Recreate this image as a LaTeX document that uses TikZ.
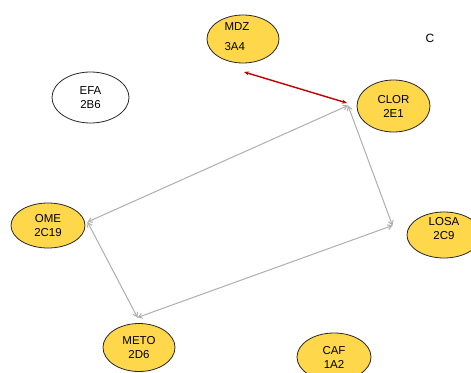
\documentclass[tikz,border=0pt]{standalone}
\usepackage{fontspec}
\setmainfont{Liberation Sans}
\usetikzlibrary{shapes.geometric,arrows.meta}
\definecolor{blobfill}{RGB}{255,215,75}
\definecolor{blobline}{RGB}{40,40,40}
\definecolor{linkgray}{RGB}{175,175,175}
\definecolor{linkred}{RGB}{192,0,0}
\tikzset{
  blob/.style={ellipse, draw=blobline, line width=0.8pt, fill=blobfill,
    inner sep=0pt, align=center, font=\fontsize{11.5}{14}\selectfont},
  plainblob/.style={blob, fill=white},
  graylink/.style={draw=linkgray, line width=1pt,
    {Straight Barb[length=4pt,width=5pt]}-{Straight Barb[length=4pt,width=5pt]}},
  redlink/.style={draw=linkred, line width=1.4pt,
    {Stealth[length=5pt,width=4pt]}-{Stealth[length=5pt,width=4pt]}},
  tag/.style={font=\fontsize{11.5}{14}\selectfont, align=center}
}
\begin{document}
\begin{tikzpicture}[x=1pt,y=-1pt]
\useasboundingbox (0,0) rectangle (471,372);
\clip (0,0) rectangle (471,372);
\fill[white] (0,0) rectangle (471,372);

% molecules
\node[blob, minimum width=72pt, minimum height=48pt,
  label={[tag, align=left, xshift=-6pt, yshift=2pt]center:{MDZ\\[6pt]3A4}}] (MDZ) at (243,39) {};
\node[plainblob, minimum width=77pt, minimum height=51pt] (EFA) at (90.5,97.5) {EFA\\2B6};
\node[blob, minimum width=73pt, minimum height=52pt] (CLOR) at (393.5,106) {CLOR\\2E1};
\node[blob, minimum width=74pt, minimum height=45pt] (OME) at (48,225.5) {OME\\2C19};
\node[blob, minimum width=74pt, minimum height=46pt,
  label={[tag, yshift=6pt]center:{LOSA\\2C9}}] (LOSA) at (444,235) {};
\node[blob, minimum width=72pt, minimum height=48pt] (METO) at (139,347.5) {METO\\2D6};
\node[blob, minimum width=74pt, minimum height=48pt] (CAF) at (334,357) {CAF\\1A2};

\node[font=\fontsize{12}{14}\selectfont] (panel) at (430,38) {C};

% link end points
\coordinate (mdzEnd) at (244,72);
\coordinate (clorEndR) at (347,103);
\coordinate (clorEnd) at (348,105.5);
\coordinate (losaEnd) at (392.5,225.5);
\coordinate (metoEnd) at (137.5,317.5);
\coordinate (omeEnd) at (87.5,222);

% interactions
\draw[redlink] (mdzEnd) -- (clorEndR);
\draw[graylink] (omeEnd) -- (clorEnd);
\draw[graylink] (clorEnd) -- (losaEnd);
\draw[graylink] (losaEnd) -- (metoEnd);
\draw[graylink] (metoEnd) -- (omeEnd);
\end{tikzpicture}
\end{document}
